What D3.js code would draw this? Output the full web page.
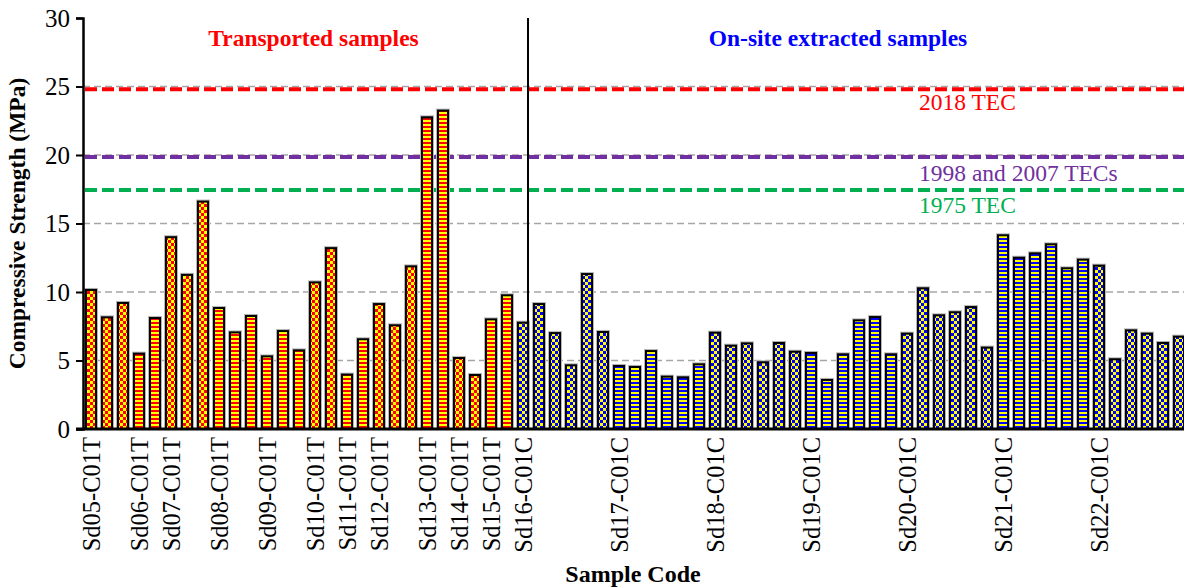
<!DOCTYPE html>
<html>
<head>
<meta charset="utf-8">
<script src="https://cdn.jsdelivr.net/npm/d3@7"></script>
<style>
  html, body { margin: 0; padding: 0; background: #fff; }
  svg { display: block; }
  svg text { font-family: "Liberation Serif", "Times New Roman", serif; }
</style>
</head>
<body>
<svg id="chart" width="1184" height="588"></svg>
<script>
// Sample codes (one label per sample, placed under its first core)
const sampleCodes = ["Sd05-C01T", "Sd06-C01T", "Sd07-C01T", "Sd08-C01T", "Sd09-C01T", "Sd10-C01T",
  "Sd11-C01T", "Sd12-C01T", "Sd13-C01T", "Sd14-C01T", "Sd15-C01T", "Sd16-C01C", "Sd17-C01C",
  "Sd18-C01C", "Sd19-C01C", "Sd20-C01C", "Sd21-C01C", "Sd22-C01C"];
// Number of cores tested per sample
const coresPerSample = [3, 2, 3, 3, 3, 2, 2, 3, 2, 2, 2, 6, 6, 6, 6, 6, 6, 6];
// Sampling type per sample: T = transported, C = on-site extracted
const sampleOrigin = ["T", "T", "T", "T", "T", "T", "T", "T", "T", "T", "T", "C", "C", "C", "C", "C", "C", "C"];
// Fill style per sample
const sampleFill = ["check", "stripe", "check", "stripe", "stripe", "check", "stripe", "check", "stripe",
  "check", "stripe", "check", "stripe", "check", "stripe", "check", "stripe", "check"];
// Compressive strength of every core (MPa), in sample order
const strength = [
  10.15, 8.15, 9.2,
  5.5, 8.1,
  14.0, 11.25, 16.6,
  8.83, 7.05, 8.25,
  5.3, 7.15, 5.74,
  10.7, 13.2,
  3.97, 6.55,
  9.12, 7.57, 11.87,
  22.75, 23.24,
  5.18, 3.94,
  8.0, 9.76,
  7.76, 9.12, 7.0, 4.65, 11.31, 7.08,
  4.6, 4.53, 5.69, 3.82, 3.77, 4.72,
  7.03, 6.08, 6.25, 4.87, 6.28, 5.64,
  5.55, 3.58, 5.45, 7.93, 8.17, 5.45,
  6.96, 10.27, 8.3, 8.52, 8.9, 5.94,
  14.14, 12.5, 12.82, 13.48, 11.73, 12.36,
  11.92, 5.09, 7.2, 6.96, 6.28, 6.74
];
// Design code limits (MPa)
const codeNames = ["2018 TEC", "1998 and 2007 TECs", "1975 TEC"];
const codeLimits = [24.8, 19.85, 17.45];
const codeColors = ["#ff0000", "#7030a0", "#00b050"];
const yTicks = [0, 5, 10, 15, 20, 25, 30];

const serif = "Liberation Serif, Times New Roman, serif";

// Expand samples into one record per core
const cores = [];
sampleCodes.forEach((code, s) => {
  for (let k = 0; k < coresPerSample[s]; k++) {
    cores.push({ idx: cores.length, sample: code, first: k === 0, origin: sampleOrigin[s], fill: sampleFill[s] });
  }
});
cores.forEach((c, i) => { c.value = strength[i]; });

const svg = d3.select("#chart");
const plotLeft = 83, plotRight = 1187, plotTop = 18, plotBottom = 429;

const x = d3.scaleBand().domain(cores.map(d => d.idx)).range([plotLeft, plotRight])
  .paddingInner(0.375).paddingOuter(0.1875);
const y = d3.scaleLinear().domain([0, 30]).range([plotBottom, plotTop]);

// Fill patterns
const defs = svg.append("defs");
function checker(id, a, b) {
  const p = defs.append("pattern").attr("id", id).attr("patternUnits", "userSpaceOnUse")
    .attr("width", 6).attr("height", 6);
  p.append("rect").attr("width", 6).attr("height", 6).attr("fill", a);
  p.append("rect").attr("width", 3).attr("height", 3).attr("fill", b);
  p.append("rect").attr("x", 3).attr("y", 3).attr("width", 3).attr("height", 3).attr("fill", b);
}
function stripes(id, a, b) {
  const p = defs.append("pattern").attr("id", id).attr("patternUnits", "userSpaceOnUse")
    .attr("width", 4).attr("height", 4);
  p.append("rect").attr("width", 4).attr("height", 4).attr("fill", a);
  p.append("rect").attr("y", 2).attr("width", 4).attr("height", 2).attr("fill", b);
}
checker("checkT", "#ffff00", "#ff0000");
stripes("stripeT", "#ffff00", "#ff0000");
checker("checkC", "#ffff00", "#0000ff");
stripes("stripeC", "#ffff00", "#0000ff");

// Gridlines
svg.append("g").selectAll("line").data(yTicks.filter(t => t > 0 && t < 30)).join("line")
  .attr("x1", plotLeft).attr("x2", plotRight)
  .attr("y1", d => y(d)).attr("y2", d => y(d))
  .attr("stroke", "#a6a6a6").attr("stroke-width", 1.6).attr("stroke-dasharray", "7,4");

// Code limit lines
svg.append("g").selectAll("line").data(codeLimits).join("line")
  .attr("x1", plotLeft + 2).attr("x2", plotRight)
  .attr("y1", d => y(d)).attr("y2", d => y(d))
  .attr("stroke", (d, i) => codeColors[i]).attr("stroke-width", 4).attr("stroke-dasharray", "12,5");

// Bars
const bars = svg.append("g");
bars.selectAll("rect.shadow").data(cores).join("rect").attr("class", "shadow")
  .attr("x", d => x(d.idx) - 2).attr("y", d => y(d.value) - 2)
  .attr("width", x.bandwidth() + 4).attr("height", d => y(0) - y(d.value) + 2)
  .attr("fill", "#b5b5b5");
bars.selectAll("rect.bar").data(cores).join("rect").attr("class", "bar")
  .attr("x", d => x(d.idx)).attr("y", d => y(d.value))
  .attr("width", x.bandwidth()).attr("height", d => y(0) - y(d.value))
  .attr("fill", d => `url(#${d.fill}${d.origin})`)
  .attr("stroke", "#000").attr("stroke-width", 2);

// Divider between transported and on-site samples
const lastT = cores.filter(d => d.origin === "T").length;
const divX = x(lastT) + x.bandwidth();
svg.append("line").attr("x1", divX).attr("x2", divX).attr("y1", y(30)).attr("y2", y(0))
  .attr("stroke", "#000").attr("stroke-width", 2);

// Y axis
const yAxis = svg.append("g").attr("transform", `translate(${plotLeft},0)`)
  .call(d3.axisLeft(y).tickValues(yTicks).tickSize(7).tickPadding(6));
yAxis.attr("font-family", serif);
yAxis.select(".domain").attr("stroke-width", 2.5);
yAxis.selectAll(".tick line").attr("stroke-width", 2);
yAxis.selectAll("text").attr("font-size", 25).attr("fill", "#000").attr("font-family", serif);

// X axis line
svg.append("line").attr("x1", plotLeft - 7).attr("x2", plotRight).attr("y1", y(0)).attr("y2", y(0))
  .attr("stroke", "#000").attr("stroke-width", 3);

// Sample code labels
svg.append("g").selectAll("text").data(cores.filter(d => d.first)).join("text")
  .attr("transform", d => `translate(${x(d.idx) + x.bandwidth() / 2},${plotBottom + 8}) rotate(-90)`)
  .attr("text-anchor", "end").attr("dy", "0.35em")
  .attr("font-family", serif).attr("font-size", 24.5).text(d => d.sample);

// Code limit labels
svg.append("g").selectAll("text").data(codeNames).join("text")
  .attr("x", 919).attr("y", (d, i) => y(codeLimits[i]) + [21, 24, 23][i])
  .attr("font-family", serif)
  .attr("fill", (d, i) => codeColors[i]).attr("font-size", 23.5).text(d => d);

// Section titles
svg.append("text").attr("x", (plotLeft + divX) / 2 + 8).attr("y", 46).attr("text-anchor", "middle")
  .attr("font-family", serif).attr("font-weight", "bold").attr("font-size", 23.5)
  .attr("fill", "#ff0000").text("Transported samples");
svg.append("text").attr("x", 838).attr("y", 46).attr("text-anchor", "middle")
  .attr("font-family", serif).attr("font-weight", "bold").attr("font-size", 23.5)
  .attr("fill", "#0000ff").text("On-site extracted samples");

// Axis titles
svg.append("text").attr("transform", `translate(25,${(plotTop + plotBottom) / 2}) rotate(-90)`)
  .attr("text-anchor", "middle").attr("font-family", serif).attr("font-weight", "bold")
  .attr("font-size", 23.5).text("Compressive Strength (MPa)");
svg.append("text").attr("x", 633).attr("y", 582).attr("text-anchor", "middle")
  .attr("font-family", serif).attr("font-weight", "bold").attr("font-size", 24).text("Sample Code");
</script>
</body>
</html>
